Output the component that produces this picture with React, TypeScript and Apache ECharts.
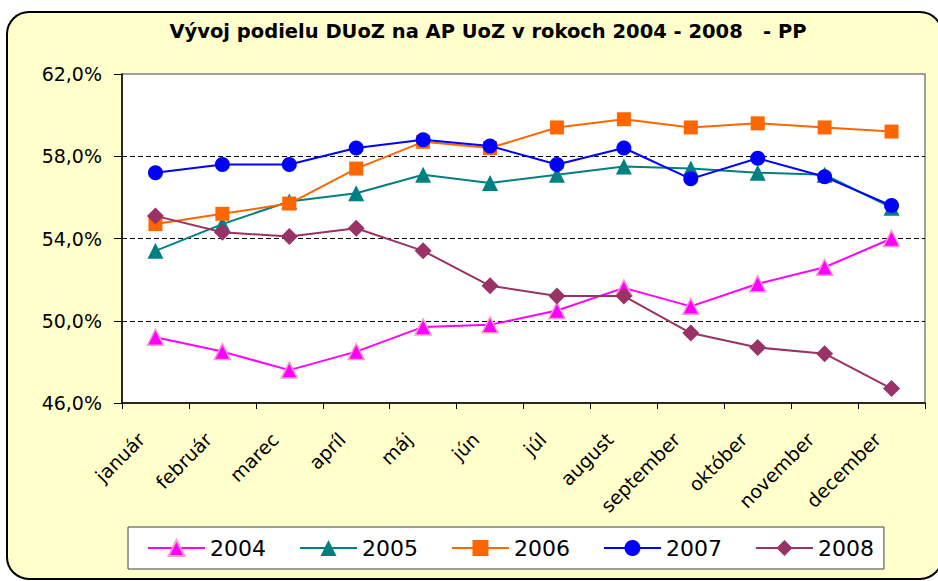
import React, { useEffect, useRef } from "react";
import * as echarts from "echarts";

const months = ["január", "február", "marec", "apríl", "máj", "jún", "júl", "august", "september", "október", "november", "december"];
const years = ["2004", "2005", "2006", "2007", "2008"];
const d2004 = [49.2, 48.5, 47.6, 48.5, 49.7, 49.8, 50.5, 51.6, 50.7, 51.8, 52.6, 54.0];
const d2005 = [53.4, 54.7, 55.8, 56.2, 57.1, 56.7, 57.1, 57.5, 57.4, 57.2, 57.1, 55.5];
const d2006 = [54.7, 55.2, 55.7, 57.4, 58.7, 58.4, 59.4, 59.8, 59.4, 59.6, 59.4, 59.2];
const d2007 = [57.2, 57.6, 57.6, 58.4, 58.8, 58.5, 57.6, 58.4, 56.9, 57.9, 57.0, 55.6];
const d2008 = [55.1, 54.3, 54.1, 54.5, 53.4, 51.7, 51.2, 51.2, 49.4, 48.7, 48.4, 46.7];
const yMin = 46;
const yMax = 62;
const yStep = 4;
const title = "Vývoj podielu DUoZ na AP UoZ v rokoch 2004 - 2008   - PP";

const FONT = "'DejaVu Sans', 'Liberation Sans', Arial, sans-serif";

export default function App() {
  const ref = useRef<HTMLDivElement>(null);
  useEffect(() => {
    if (!ref.current) return;
    const chart = echarts.init(ref.current, null, { renderer: "svg" });
    const styles = [
      { color: "#FF00FF", symbol: "triangle", size: 16, border: "#FF99CC", bw: 1.5 },
      { color: "#008080", symbol: "triangle", size: 16, border: "#008080", bw: 0 },
      { color: "#FF6600", symbol: "rect", size: 14, border: "#FF6600", bw: 0 },
      { color: "#0000FF", symbol: "circle", size: 15, border: "#0000FF", bw: 0 },
      { color: "#993366", symbol: "diamond", size: 17, border: "#993366", bw: 0 },
    ];
    const data = [d2004, d2005, d2006, d2007, d2008];
    chart.setOption({
      animation: false,
      graphic: [
        {
          type: "rect",
          z: -10,
          shape: { x: 7, y: 12, width: 935, height: 567, r: 22 },
          style: { fill: "#FFFFCC", stroke: "#000", lineWidth: 2 },
        },
        {
          type: "text",
          z: 10,
          x: 488,
          y: 21,
          style: {
            text: title,
            align: "center",
            textAlign: "center",
            verticalAlign: "top",
            textVerticalAlign: "top",
            fontSize: 19.5,
            fontWeight: "bold",
            fontFamily: FONT,
            fill: "#000",
          },
        },
      ],
      grid: {
        left: 122,
        right: 13,
        top: 74,
        bottom: 178,
        show: true,
        backgroundColor: "#FFFFFF",
        borderColor: "#808080",
        borderWidth: 1.5,
      },
      legend: {
        show: true,
        data: years,
        left: 128,
        top: 527,
        orient: "horizontal",
        itemWidth: 57,
        itemHeight: 20,
        itemGap: 33,
        padding: [10, 10, 10, 19],
        backgroundColor: "#FFFFFF",
        borderColor: "#404040",
        borderWidth: 1,
        textStyle: { fontSize: 22, fontFamily: FONT, color: "#000" },
      },
      xAxis: {
        type: "category",
        data: months,
        boundaryGap: true,
        axisLine: { show: true, lineStyle: { color: "#000", width: 1.5 } },
        axisTick: { show: true, length: 6, alignWithLabel: false, lineStyle: { color: "#000" } },
        axisLabel: {
          rotate: 45,
          interval: 0,
          margin: 19,
          padding: [0, 20, 0, 0],
          fontSize: 19,
          fontFamily: FONT,
          color: "#000",
        },
        splitLine: { show: false },
      },
      yAxis: {
        type: "value",
        min: yMin,
        max: yMax,
        interval: yStep,
        axisLine: { show: true, lineStyle: { color: "#000", width: 1.5 } },
        axisTick: { show: true, length: 8, lineStyle: { color: "#000" } },
        axisLabel: {
          margin: 20,
          fontSize: 19,
          fontFamily: FONT,
          color: "#000",
          formatter: (v: number) => v.toFixed(1).replace(".", ",") + "%",
        },
        splitLine: {
          show: true,
          lineStyle: {
            color: ["rgba(0,0,0,0)", "#000", "#000", "#000", "rgba(0,0,0,0)"],
            type: [5, 3],
            width: 1,
          },
        },
      },
      series: years.map((y, i) => ({
        name: y,
        type: "line",
        data: data[i],
        symbol: styles[i].symbol,
        symbolSize: styles[i].size,
        showAllSymbol: true,
        lineStyle: { color: styles[i].color, width: 2 },
        itemStyle: {
          color: styles[i].color,
          borderColor: styles[i].border,
          borderWidth: styles[i].bw,
        },
        z: 2 + i,
      })),
    });
    return () => chart.dispose();
  }, []);
  return (
    <div
      ref={ref}
      style={{ position: "fixed", left: 0, top: 0, width: 938, height: 581, background: "#FFFFFF" }}
    />
  );
}
